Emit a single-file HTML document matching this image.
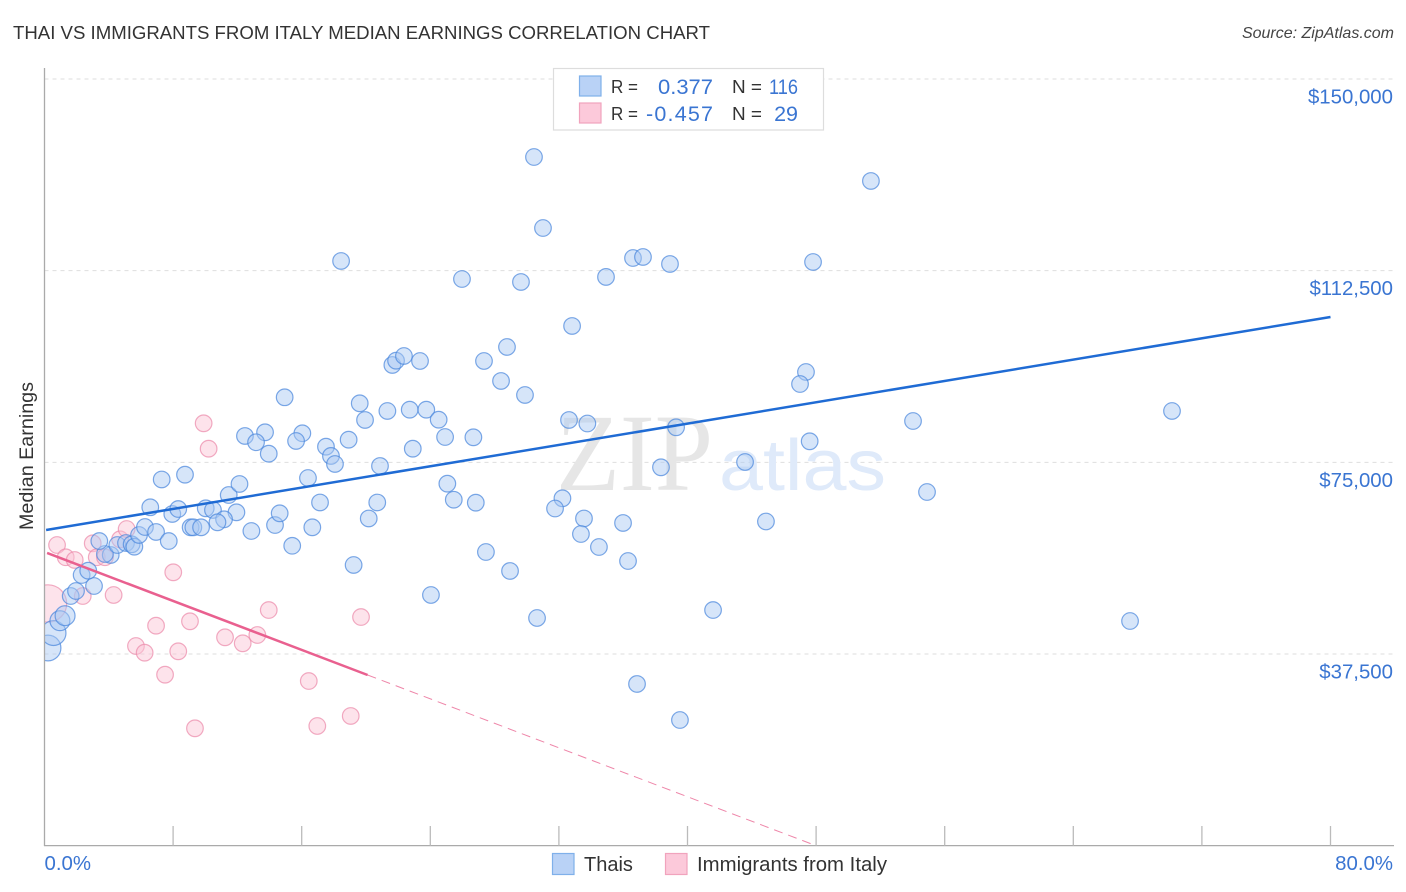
<!DOCTYPE html>
<html lang="en">
<head>
<meta charset="utf-8">
<title>Thai vs Immigrants from Italy Median Earnings Correlation Chart</title>
<style>
html,body{margin:0;padding:0;background:#fff;width:1406px;height:892px;overflow:hidden}
svg{display:block;font-family:"Liberation Sans",sans-serif}
</style>
</head>
<body>
<svg id="chart" xmlns="http://www.w3.org/2000/svg" width="1406" height="892" viewBox="0 0 1406 892">
  <defs>
    <clipPath id="plot-clip"><rect x="45" y="60" width="1350" height="786"/></clipPath>
  </defs>
  <rect x="0" y="0" width="1406" height="892" fill="#fff"/>
  <text x="13" y="39" font-size="18" fill="#333" textLength="697" lengthAdjust="spacingAndGlyphs">THAI VS IMMIGRANTS FROM ITALY MEDIAN EARNINGS CORRELATION CHART</text>
  <text x="1394" y="38" font-size="16" font-style="italic" fill="#444" text-anchor="end">Source: ZipAtlas.com</text>
  <g id="grid"></g>
  <g>
    <text x="556" y="490" font-family="'Liberation Serif',serif" font-size="110" fill="#e6e6e6" textLength="157" lengthAdjust="spacingAndGlyphs">ZIP</text>
    <text x="719" y="490" font-size="72" fill="#dfeafa" textLength="167" lengthAdjust="spacingAndGlyphs">atlas</text>
  </g>
  <g id="points-italy" clip-path="url(#plot-clip)"></g>
  <g id="points-thai" clip-path="url(#plot-clip)"></g>
  <rect x="0" y="60" width="44.5" height="786" fill="#fff"/>
  <g id="axes"></g>
  <g id="trends"></g>
  <text transform="translate(33,530) rotate(-90)" font-size="19" fill="#333" textLength="148" lengthAdjust="spacingAndGlyphs">Median Earnings</text>
  <g id="tick-labels"></g>

  <g>
    <rect x="553.5" y="68.5" width="270" height="61.5" fill="#fff" stroke="#ddd" stroke-width="1.2"/>
    <rect x="579.5" y="76" width="21.5" height="20" fill="#b9d2f6" stroke="#7fb0ea" stroke-width="1.2"/>
    <rect x="579.5" y="103" width="21.5" height="20" fill="#fcc9da" stroke="#f1a3bd" stroke-width="1.2"/>
    <text x="611" y="93" font-size="18" fill="#333" textLength="27" lengthAdjust="spacingAndGlyphs">R =</text>
    <text x="658" y="94" font-size="21.5" fill="#3a75d2" textLength="55" lengthAdjust="spacingAndGlyphs">0.377</text>
    <text x="732" y="93" font-size="18" fill="#333" textLength="30" lengthAdjust="spacingAndGlyphs">N =</text>
    <text x="769" y="94" font-size="21.5" fill="#3a75d2" textLength="29" lengthAdjust="spacingAndGlyphs">116</text>
    <text x="611" y="120" font-size="18" fill="#333" textLength="27" lengthAdjust="spacingAndGlyphs">R =</text>
    <text x="646" y="121" font-size="21.5" fill="#3a75d2" textLength="67" lengthAdjust="spacing">-0.457</text>
    <text x="732" y="120" font-size="18" fill="#333" textLength="30" lengthAdjust="spacingAndGlyphs">N =</text>
    <text x="798" y="121" font-size="21.5" fill="#3a75d2" text-anchor="end">29</text>
  </g>

  <g>
    <g>
      <rect x="552.5" y="853.5" width="21.5" height="21" fill="#b9d2f6" stroke="#7fb0ea" stroke-width="1.2"/>
      <text x="584" y="871" font-size="20" fill="#333">Thais</text>
    </g>
    <g>
      <rect x="665.5" y="853.5" width="21.5" height="21" fill="#fcc9da" stroke="#f1a3bd" stroke-width="1.2"/>
      <text x="697" y="871" font-size="20" fill="#333" textLength="190" lengthAdjust="spacingAndGlyphs">Immigrants from Italy</text>
    </g>
  </g>
</svg>
<script>
const yTickValues = [37.5, 75, 112.5, 150];
const yTickLabels = ["$37,500", "$75,000", "$112,500", "$150,000"];
const xTickValues = [8, 16, 24, 32, 40, 48, 56, 64, 72, 80];
const xEndValues = [0, 80];
const xEndLabels = ["0.0%", "80.0%"];

const thaiX = [0.22,0.56,0.96,1.28,1.63,1.96,3.08,2.31,2.72,4.12,3.76,3.41,4.53,5.07,5.42,5.59,5.88,6.25,6.94,7.73,6.58,7.95,8.32,10.03,10.48,11.46,12.13,11.94,11.17,10.76,9.09,9.26,9.74,12.87,14.34,14.63,15.41,16.66,17.14,19.23,20.17,20.70,16.39,7.29,8.74,14.94,12.47,13.72,13.16,13.95,16.04,15.65,17.51,17.82,18.07,18.92,20.87,19.61,19.94,21.33,22.72,23.75,24.52,24.92,26.68,22.91,25.06,25.46,26.83,21.64,21.87,22.36,23.36,30.45,51.41,31.01,36.61,37.23,38.91,47.81,18.45,25.97,29.64,34.93,32.82,28.77,27.34,28.40,29.89,47.37,47.00,32.63,33.77,39.29,47.60,54.03,70.14,38.35,43.58,54.90,32.22,31.76,33.56,35.99,33.37,34.49,44.88,36.30,27.46,28.96,24.04,30.64,41.59,67.53,36.86,39.53];
const thaiY = [38.68,41.61,44.02,45.00,48.85,49.83,50.81,52.96,53.80,56.88,57.07,59.61,58.83,59.22,58.97,58.50,60.79,62.35,61.38,59.61,66.21,64.90,65.87,66.01,65.68,68.61,70.77,65.23,63.86,63.27,62.29,62.29,62.29,61.57,62.74,65.03,58.68,62.29,67.15,54.92,64.02,67.15,71.94,71.65,72.59,87.73,80.16,80.88,78.93,76.69,80.69,79.18,78.06,76.25,74.68,79.43,74.29,86.55,83.29,85.05,85.30,85.30,83.35,79.96,79.90,77.67,70.83,67.69,67.11,94.05,94.89,95.81,94.83,134.74,130.05,120.85,114.98,115.18,113.81,114.20,114.40,110.87,110.29,111.27,101.68,97.57,94.83,90.92,88.18,92.68,90.33,83.29,82.60,81.86,79.12,83.09,85.05,74.03,75.07,69.20,67.97,65.97,64.02,63.14,60.98,58.44,63.43,55.70,57.46,53.75,49.05,44.55,46.11,43.96,31.64,24.59];
const thaiLeadingWeights = [1.55, 1.5, 1.2, 1.2];

const italyX = [0.22,0.78,1.32,1.88,3.00,3.25,3.76,4.70,5.11,2.38,4.30,8.01,6.94,9.05,5.69,6.23,8.32,7.50,9.36,11.23,12.33,13.24,13.95,19.69,16.44,16.97,19.05,9.90,10.21];
const italyY = [47.39,58.83,56.43,55.90,59.16,56.43,56.43,59.95,61.96,48.85,49.05,53.49,43.04,43.90,39.07,37.76,38.03,33.46,22.97,40.77,39.60,41.22,46.11,44.74,32.22,23.42,25.38,82.64,77.67];
const italyLeadingWeights = [2.25];

const thaiTrendX = [0.1, 80];
const thaiTrendY = [61.77, 103.44];
const italyTrendX = [0.16, 20.1];
const italyTrendY = [57.27, 33.4];
const italyDashX = [20.1, 48];
const italyDashY = [33.4, 0];

const NS = 'http://www.w3.org/2000/svg';
const xScale = v => 44.5 + v * 1286 / 80;
const yScale = v => 845.7 - v * 766.7 / 150;
const BASE_R = 8.3;

function make(tag, attrs, parent) {
  const el = document.createElementNS(NS, tag);
  for (const k in attrs) el.setAttribute(k, attrs[k]);
  parent.appendChild(el);
  return el;
}

const gridG = document.getElementById('grid');
yTickValues.forEach(v => {
  const line = make('line', {x1: 44.5, x2: 1394, y1: yScale(v), y2: yScale(v), stroke: '#dedede', 'stroke-width': 1, 'stroke-dasharray': '4 4'}, gridG);
  
  
});

const axesG = document.getElementById('axes');
const yAxis = make('line', {x1: 44.5, x2: 44.5, y1: 68, y2: 846, stroke: '#aaa', 'stroke-width': 1.3}, axesG);


const xAxis = make('line', {x1: 44, x2: 1394, y1: 845.6, y2: 845.6, stroke: '#aaa', 'stroke-width': 1.3}, axesG);


xTickValues.forEach(v => {
  const tick = make('line', {x1: xScale(v), x2: xScale(v), y1: 826, y2: 845.6, stroke: '#bbb', 'stroke-width': 1.3}, axesG);
  
  
});

function drawPoints(groupId, xs, ys, leading, fill, stroke, name) {
  const g = document.getElementById(groupId);
  xs.forEach((x, i) => {
    const w = i < leading.length ? leading[i] : 1;
    const c = make('circle', {cx: xScale(x), cy: yScale(ys[i]), r: BASE_R * w, fill: fill, 'fill-opacity': 0.48, stroke: stroke, 'stroke-opacity': 0.72, 'stroke-width': 1.2}, g);
    
    
  });
}
drawPoints('points-italy', italyX, italyY, italyLeadingWeights, '#fbc4d6', '#ec8aab', 'italy-point');
drawPoints('points-thai', thaiX, thaiY, thaiLeadingWeights, '#a9c9f3', '#4a87dc', 'thai-point');

const trendsG = document.getElementById('trends');
const thaiLine = make('line', {x1: xScale(thaiTrendX[0]), y1: yScale(thaiTrendY[0]), x2: xScale(thaiTrendX[1]), y2: yScale(thaiTrendY[1]), stroke: '#1f6bd4', 'stroke-width': 2.5}, trendsG);


const italyLine = make('line', {x1: xScale(italyTrendX[0]), y1: yScale(italyTrendY[0]), x2: xScale(italyTrendX[1]), y2: yScale(italyTrendY[1]), stroke: '#e9608f', 'stroke-width': 2.5}, trendsG);


const italyDash = make('line', {x1: xScale(italyDashX[0]), y1: yScale(italyDashY[0]), x2: xScale(italyDashX[1]), y2: yScale(italyDashY[1]), stroke: '#ee86a9', 'stroke-width': 1, 'stroke-dasharray': '9 6'}, trendsG);



const labelsG = document.getElementById('tick-labels');
yTickValues.forEach((v, i) => {
  const t = make('text', {x: 1393, y: yScale(v) + 24.5, 'font-size': 20.4, fill: '#3a75d2', 'text-anchor': 'end'}, labelsG);
  t.textContent = yTickLabels[i];
  
  
});
xEndValues.forEach((v, i) => {
  const anchor = i === 0 ? 'start' : 'end';
  const px = i === 0 ? xScale(v) : 1393;
  const t = make('text', {x: px, y: 870, 'font-size': 20.4, fill: '#3a75d2', 'text-anchor': anchor}, labelsG);
  t.textContent = xEndLabels[i];
  
  
});
</script>
</body>
</html>
